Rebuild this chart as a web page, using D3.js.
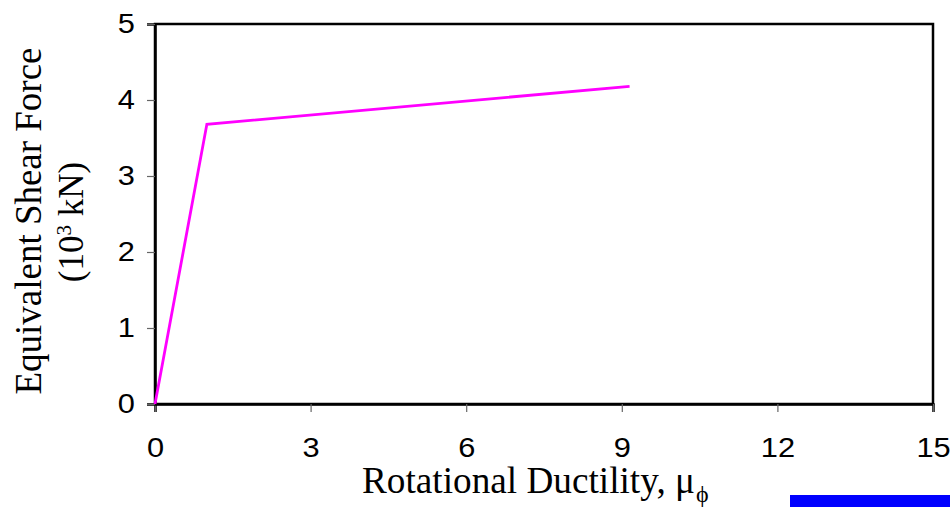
<!DOCTYPE html>
<html>
<head>
<meta charset="utf-8">
<script src="https://cdn.jsdelivr.net/npm/d3@7"></script>
<style>
  body { margin: 0; background: #fff; }
  svg { display: block; }
</style>
</head>
<body>
<script>
// Data
const ductility = [0, 1.0, 9.15];
const shearForce = [0, 3.68, 4.18];
const xTicks = [0, 3, 6, 9, 12, 15];
const yTicks = [0, 1, 2, 3, 4, 5];

const width = 950, height = 507;
const margin = { top: 24, right: 17, bottom: 103, left: 155 };

const svg = d3.select("body").append("svg")
  .attr("width", width)
  .attr("height", height);

const x = d3.scaleLinear().domain([0, 15]).range([margin.left, width - margin.right]);
const y = d3.scaleLinear().domain([0, 5]).range([height - margin.bottom, margin.top]);

// Plot frame
svg.append("rect")
  .attr("x", x(0)).attr("y", y(5))
  .attr("width", x(15) - x(0)).attr("height", y(0) - y(5))
  .attr("fill", "none").attr("stroke", "#000").attr("stroke-width", 2.5);

// Axes
const xAxis = svg.append("g")
  .attr("transform", `translate(0,${y(0)})`)
  .call(d3.axisBottom(x).tickValues(xTicks).tickSize(8).tickPadding(25).tickFormat(d3.format("d")));
const yAxis = svg.append("g")
  .attr("transform", `translate(${x(0)},0)`)
  .call(d3.axisLeft(y).tickValues(yTicks).tickSize(8).tickFormat(d3.format("d")));

const sx = 1.1; // labels in the source are a little wider than plain Arial
[xAxis, yAxis].forEach(g => {
  g.attr("font-size", 28).attr("font-family", "'Liberation Sans', Arial, sans-serif");
  g.select(".domain").attr("stroke", "#000").attr("stroke-width", 2.5);
  g.selectAll(".tick line").attr("stroke", "#666").attr("stroke-width", 1.2);
  g.selectAll(".tick text").attr("fill", "#000").attr("transform", `scale(${sx},1)`);
});
yAxis.selectAll(".tick text").attr("x", -20 / sx);

// Series line
const line = d3.line().x(d => x(d[0])).y(d => y(d[1]));
svg.append("path")
  .datum(d3.zip(ductility, shearForce))
  .attr("d", line)
  .attr("fill", "none")
  .attr("stroke", "#ff00ff")
  .attr("stroke-width", 2.8);

// Axis titles
const serif = "'Liberation Serif', 'Times New Roman', serif";
svg.append("text")
  .attr("x", 362).attr("y", 493)
  .attr("textLength", 333).attr("lengthAdjust", "spacingAndGlyphs")
  .style("font-family", serif).style("font-size", "38px")
  .text("Rotational Ductility, μ");
svg.append("text")
  .attr("x", 696).attr("y", 502)
  .style("font-family", serif).style("font-size", "24px")
  .text("ϕ");

const yt = svg.append("g").attr("transform", "translate(0,221) rotate(-90)");
yt.append("text")
  .attr("x", 0).attr("y", 41)
  .attr("text-anchor", "middle")
  .attr("textLength", 347).attr("lengthAdjust", "spacingAndGlyphs")
  .style("font-family", serif).style("font-size", "38px")
  .text("Equivalent Shear Force");
const y2 = yt.append("text")
  .attr("x", -1).attr("y", 83)
  .attr("text-anchor", "middle")
  .style("font-family", serif).style("font-size", "35px");
y2.append("tspan").text("(10");
y2.append("tspan").attr("dy", -12).style("font-size", "21px").text("3");
y2.append("tspan").attr("dy", 12).text(" kN)");

// Partially visible legend swatch at bottom right
svg.append("rect")
  .attr("x", 790).attr("y", 495)
  .attr("width", 160).attr("height", 12)
  .attr("fill", "#0000ff");
</script>
</body>
</html>
